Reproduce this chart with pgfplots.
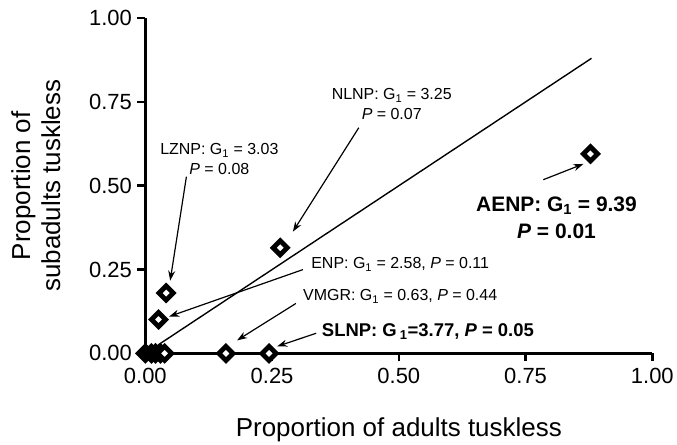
\documentclass[border=0pt]{standalone}
\usepackage{pgfplots}
\pgfplotsset{compat=1.18}
\usepackage{fontspec}
\setmainfont{Liberation Sans}
\usetikzlibrary{arrows.meta}
\begin{document}
\begin{tikzpicture}
\begin{axis}[
  scale only axis, width=508pt, height=336pt,
  xmin=0, xmax=1, ymin=0, ymax=1,
  clip=false,
  axis lines=left,
  axis line style={line width=2.6pt, -},
  xtick={0,0.25,0.5,0.75,1},
  ytick={0,0.25,0.5,0.75,1},
  tick align=outside,
  major tick length=8pt,
  tick style={line width=2.6pt, black},
  tick label style={font=\fontsize{22}{24}\selectfont},
  xticklabel style={yshift=-3pt},
  yticklabel style={xshift=-2pt},
  label style={font=\fontsize{26}{30}\selectfont},
  xlabel={Proportion of adults tuskless},
  ylabel={Proportion of\\subadults tuskless},
  ylabel style={align=center},
  ylabel shift=22pt,
  xlabel shift=27pt,
  /pgf/number format/fixed,
  /pgf/number format/fixed zerofill,
  /pgf/number format/precision=2,
  /pgf/number format/assume math mode=true,
]
% line of equality
\addplot[black, line width=1.4pt, mark=none] coordinates {(0.025,0.025) (0.88,0.88)};
% parks
\addplot[only marks, mark=square*, mark size=5pt,
  mark options={rotate=45, line width=4.8pt, draw=black, fill=white}]
  coordinates {
  (0.000,0) (0.012,0) (0.020,0) (0.030,0) (0.038,0)
  (0.159,0) (0.244,0)
  (0.026,0.101) (0.041,0.180) (0.266,0.315) (0.878,0.595)
  };
\tikzset{ann/.style={font=\fontsize{16}{20}\selectfont, align=center, inner sep=0pt},
         arr/.style={line width=1.2pt, -{Stealth[length=10pt, width=7pt]}}}
% NLNP
\node[ann] at (axis cs:0.486,0.744) {NLNP: G\textsubscript{1} = 3.25\\\textit{P} = 0.07};
\draw[arr] (axis cs:0.421,0.673) -- (axis cs:0.291,0.363);
% LZNP
\node[ann] at (axis cs:0.146,0.580) {LZNP: G\textsubscript{1} = 3.03\\\textit{P} = 0.08};
\draw[arr] (axis cs:0.081,0.527) -- (axis cs:0.049,0.217);
% ENP
\node[ann, anchor=west] at (axis cs:0.327,0.265) {ENP: G\textsubscript{1} = 2.58, \textit{P} = 0.11};
\draw[arr] (axis cs:0.311,0.250) -- (axis cs:0.047,0.110);
% VMGR
\node[ann, anchor=west] at (axis cs:0.311,0.170) {VMGR: G\textsubscript{1} = 0.63, \textit{P} = 0.44};
\draw[arr] (axis cs:0.297,0.149) -- (axis cs:0.181,0.039);
% SLNP
\node[ann, anchor=west, font=\fontsize{18.5}{22}\selectfont\bfseries] at (axis cs:0.348,0.065) {SLNP: G\,\textsubscript{1}=3.77, \textit{P} = 0.05};
\draw[arr] (axis cs:0.337,0.060) -- (axis cs:0.260,0.021);
% AENP
\node[ann, font=\fontsize{21}{27}\selectfont\bfseries] at (axis cs:0.811,0.405) {AENP: G\textsubscript{1} = 9.39\\\textit{P} = 0.01};
\draw[arr] (axis cs:0.785,0.518) -- (axis cs:0.864,0.565);
\end{axis}
\path ([xshift=-8pt]current bounding box.west);
\path ([yshift=7pt]current bounding box.north);
\end{tikzpicture}
\end{document}
